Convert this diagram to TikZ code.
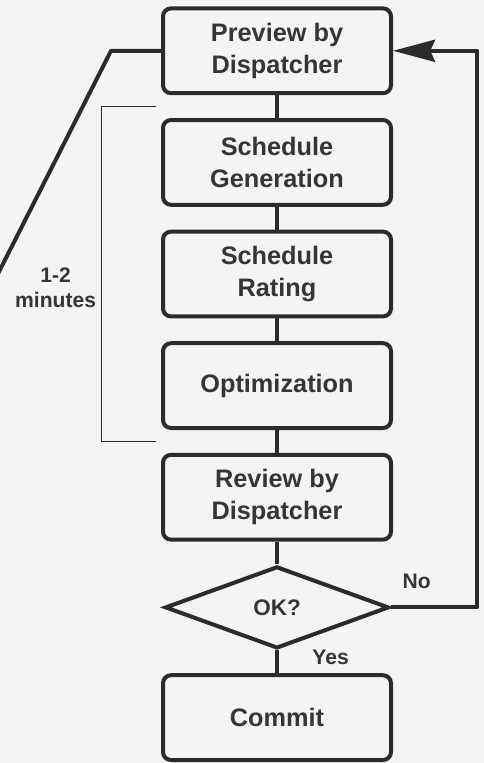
\documentclass[tikz,border=0pt]{standalone}
\usepackage{fontspec}
\setmainfont{Liberation Sans}
\usepackage{tikz}
\usetikzlibrary {arrows.meta,
                 calc,
                 positioning,
                 shapes.geometric}
\definecolor{ink}{HTML}{2B2B2B}
\definecolor{txt}{HTML}{353535}
\definecolor{paper}{HTML}{F4F4F2}
\tikzset{
        base/.style={draw=ink, line width=1mm, align=center, text=txt,
                     font=\fontsize{18}{22.7}\selectfont\bfseries},
        proc/.style={base, rectangle, rounded corners=2mm,
                     minimum width=5.7cm, minimum height=2.12cm},
        test/.style={base, diamond, inner sep=0pt,
                     minimum width=5.6cm, minimum height=2.05cm,
                     font=\fontsize{16}{19}\selectfont\bfseries
                     },
        lbl/.style={text=txt, align=center,
                    font=\fontsize{15}{18}\selectfont\bfseries},
        link/.style={draw=ink, line width=1mm, line join=round},
        myarrow/.style={link, -{Stealth[length=1.05cm, width=0.55cm, inset=0.12cm]}},
        bracket/.style={draw=ink, line width=0.25mm},
 }
\begin{document}
\begin{tikzpicture}[node distance=0.57cm]
        \path[use as bounding box, fill=paper] (0,0) rectangle (12.1,-19.075);

        \node[proc] (preview) at (6.925,-1.27) {Preview by\\Dispatcher};
        \node[proc, below = of preview] (gen) {Schedule\\Generation};
        \node[proc, below = of gen] (rating) {Schedule\\Rating};
        \node[proc, below = of rating] (optim) {Optimization};
        \node[proc, below = of optim] (review) {Review by\\Dispatcher};
        \node[test, below = of review] (ok) {OK?};
        \node[proc, below = of ok] (commit) {Commit};

        % Hilfspunkte fuer Rueckfuehrung und Zuleitung
        \coordinate (ret) at ([xshift=2.1cm]preview.east);
        \coordinate (kink) at ([xshift=-1.25cm]preview.west);
        \coordinate (tail) at (-0.1,-6.94);
        \coordinate (btop) at ($(preview.south west)!0.5!(gen.north west) + (-0.12,0)$);
        \coordinate (bbot) at ($(optim.south west)!0.5!(review.north west) + (-0.12,0)$);

        \draw[link] (preview) -- (gen);
        \draw[link] (gen) -- (rating);
        \draw[link] (rating) -- (optim);
        \draw[link] (optim) -- (review);
        \draw[link] (review) -- (ok);
        \draw[link] (ok.south) -- node[midway, right=0.72cm, yshift=0.1cm, lbl] {Yes} (commit.north);

        \draw[myarrow] (ok.east) -| node[pos=0.15, above=0.3cm, lbl] {No} (ret) -- (preview.east);

        \draw[link] (preview.west) -- (kink) -- (tail);

        \draw[bracket] (btop) -- ++(-1.375,0) |- node[pos=0.27, left, lbl] {1-2\\minutes} (bbot);

\end{tikzpicture}
\end{document}
